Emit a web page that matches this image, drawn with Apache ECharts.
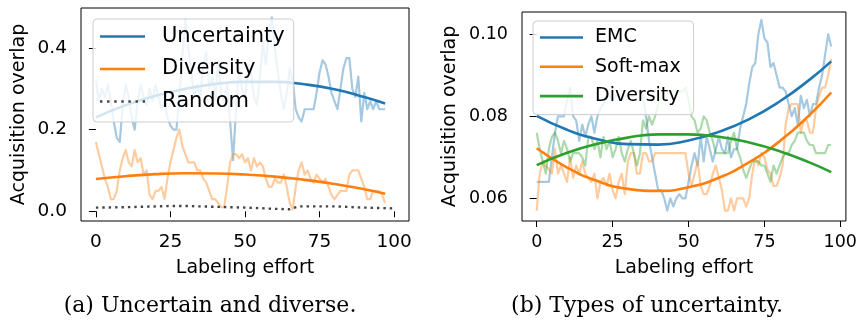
<!DOCTYPE html>
<html>
<head>
<meta charset="utf-8">
<script src="https://cdn.jsdelivr.net/npm/echarts@6/dist/echarts.min.js"></script>
<style>
  html, body { margin: 0; padding: 0; background: #fff; }
  #chart { width: 860px; height: 326px; }
</style>
</head>
<body>
<div id="chart"></div>
<script>
// (a) raw overlap per labeling step (x = 0..97)
const uncertaintyRaw = [
  0.32, 0.27, 0.30, 0.28, 0.31, 0.27, 0.22, 0.18, 0.17, 0.26,
  0.31, 0.28, 0.23, 0.20, 0.27, 0.31, 0.28, 0.26, 0.30, 0.27,
  0.31, 0.28, 0.25, 0.27, 0.23, 0.21, 0.20, 0.20, 0.28, 0.38,
  0.47, 0.40, 0.34, 0.28, 0.31, 0.28, 0.36, 0.39, 0.30, 0.33,
  0.27, 0.37, 0.29, 0.27, 0.31, 0.22, 0.125, 0.25, 0.35, 0.30,
  0.27, 0.36, 0.34, 0.28, 0.26, 0.33, 0.41, 0.36, 0.44, 0.475,
  0.40, 0.34, 0.29, 0.25, 0.29, 0.35, 0.32, 0.25, 0.23, 0.22,
  0.25, 0.25, 0.25, 0.25, 0.29, 0.34, 0.37, 0.36, 0.33, 0.29,
  0.27, 0.25, 0.30, 0.35, 0.375, 0.375, 0.30, 0.28, 0.33, 0.22,
  0.29, 0.25, 0.27, 0.25, 0.27, 0.25, 0.25, 0.25
];
const diversityRaw = [
  0.17, 0.14, 0.11, 0.08, 0.06, 0.03, 0.03, 0.05, 0.10, 0.13,
  0.15, 0.12, 0.11, 0.15, 0.12, 0.13, 0.09, 0.10, 0.04, 0.03,
  0.05, 0.05, 0.06, 0.03, 0.08, 0.12, 0.15, 0.18, 0.20, 0.16,
  0.14, 0.12, 0.12, 0.12, 0.10, 0.10, 0.08, 0.07, 0.05, 0.03,
  0.03, 0.02, 0.01, 0.01, 0.06, 0.12, 0.14, 0.14, 0.13, 0.14,
  0.12, 0.13, 0.10, 0.13, 0.11, 0.12, 0.11, 0.08, 0.06, 0.06,
  0.08, 0.07, 0.07, 0.09, 0.06, 0.02, 0.005, 0.06, 0.10, 0.12,
  0.09, 0.10, 0.08, 0.07, 0.09, 0.08, 0.07, 0.08, 0.06, 0.04,
  0.03, 0.04, 0.05, 0.05, 0.05, 0.09, 0.10, 0.10, 0.10, 0.08,
  0.06, 0.03, 0.03, 0.05, 0.05, 0.05, 0.04, 0.02
];
const randomX = [0, 10, 20, 25, 30, 40, 50, 60, 65, 68, 80, 90, 100];
const randomY = [0.009, 0.010, 0.012, 0.013, 0.013, 0.011, 0.009, 0.006, 0.005, 0.012, 0.012, 0.009, 0.007];

// fitted trends, read at these steps
const trendX = [0, 10, 20, 30, 40, 50, 60, 70, 80, 90, 97];
const uncertaintyTrend = [0.230, 0.260, 0.283, 0.300, 0.312, 0.317, 0.317, 0.311, 0.299, 0.280, 0.264];
const diversityTrend = [0.079, 0.086, 0.091, 0.093, 0.0925, 0.090, 0.085, 0.077, 0.067, 0.054, 0.043];

// (b) raw overlap per labeling step
const emcRaw = [
  0.064, 0.064, 0.064, 0.064, 0.064, 0.070, 0.076, 0.080, 0.080, 0.080,
  0.084, 0.087, 0.080, 0.079, 0.074, 0.078, 0.075, 0.078, 0.080, 0.076,
  0.080, 0.082, 0.083, 0.085, 0.085, 0.084, 0.085, 0.085, 0.084, 0.085,
  0.085, 0.085, 0.085, 0.086, 0.086, 0.085, 0.080, 0.074, 0.070, 0.066,
  0.062, 0.062, 0.060, 0.057, 0.060, 0.058, 0.060, 0.061, 0.060, 0.060,
  0.064, 0.068, 0.071, 0.068, 0.075, 0.069, 0.075, 0.072, 0.069, 0.072,
  0.075, 0.072, 0.071, 0.075, 0.070, 0.072, 0.072, 0.077, 0.080, 0.083,
  0.088, 0.092, 0.093, 0.100, 0.1035, 0.099, 0.098, 0.092, 0.093, 0.090,
  0.087, 0.087, 0.086, 0.083, 0.080, 0.082, 0.078, 0.085, 0.082, 0.084,
  0.080, 0.083, 0.083, 0.087, 0.090, 0.095, 0.100, 0.097
];
const softmaxRaw = [
  0.057, 0.066, 0.069, 0.068, 0.067, 0.066, 0.072, 0.066, 0.068, 0.066,
  0.064, 0.070, 0.065, 0.068, 0.066, 0.069, 0.066, 0.065, 0.064, 0.066,
  0.060, 0.064, 0.065, 0.063, 0.066, 0.062, 0.060, 0.064, 0.066, 0.061,
  0.069, 0.071, 0.071, 0.066, 0.066, 0.071, 0.071, 0.069, 0.069, 0.071,
  0.071, 0.071, 0.071, 0.071, 0.071, 0.071, 0.071, 0.071, 0.071, 0.071,
  0.066, 0.063, 0.066, 0.069, 0.063, 0.061, 0.061, 0.063, 0.066, 0.068,
  0.065, 0.062, 0.057, 0.057, 0.060, 0.057, 0.060, 0.060, 0.060, 0.058,
  0.060, 0.066, 0.070, 0.068, 0.071, 0.070, 0.067, 0.066, 0.063, 0.063,
  0.065, 0.068, 0.078, 0.082, 0.083, 0.083, 0.083, 0.076, 0.079, 0.079,
  0.076, 0.076, 0.082, 0.085, 0.087, 0.087, 0.090, 0.094
];
const diversityRawB = [
  0.076, 0.072, 0.069, 0.066, 0.072, 0.075, 0.076, 0.074, 0.071, 0.074,
  0.072, 0.069, 0.071, 0.071, 0.071, 0.070, 0.068, 0.075, 0.075, 0.072,
  0.074, 0.070, 0.075, 0.072, 0.074, 0.070, 0.072, 0.075, 0.071, 0.069,
  0.072, 0.074, 0.071, 0.068, 0.071, 0.079, 0.077, 0.080, 0.078, 0.080,
  0.083, 0.086, 0.086, 0.086, 0.086, 0.086, 0.086, 0.086, 0.086, 0.087,
  0.084, 0.080, 0.079, 0.076, 0.077, 0.080, 0.079, 0.076, 0.074, 0.071,
  0.071, 0.071, 0.071, 0.071, 0.074, 0.076, 0.072, 0.070, 0.067, 0.065,
  0.067, 0.069, 0.069, 0.069, 0.068, 0.068, 0.066, 0.064, 0.068, 0.066,
  0.068, 0.070, 0.071, 0.071, 0.073, 0.074, 0.076, 0.076, 0.076, 0.074,
  0.073, 0.073, 0.071, 0.071, 0.071, 0.071, 0.073, 0.073
];
const emcTrend = [0.0801, 0.0767, 0.0744, 0.0732, 0.0731, 0.0741, 0.0762, 0.0793, 0.0836, 0.0890, 0.0934];
const softmaxTrend = [0.0722, 0.0675, 0.0642, 0.0623, 0.0618, 0.0627, 0.0650, 0.0688, 0.0739, 0.0804, 0.0858];
const diversityTrendB = [0.0681, 0.0711, 0.0733, 0.0748, 0.0756, 0.0756, 0.0750, 0.0736, 0.0715, 0.0687, 0.0664];

const xTicks = [0, 25, 50, 75, 100];
const yTicksA = [0.0, 0.2, 0.4];
const yTicksB = [0.06, 0.08, 0.10];

const BLUE = '#1f77b4', ORANGE = '#ff7f0e', GREEN = '#2ca02c';

const steps = vals => vals.map((v, i) => [i, v]);
const pairs = (xs, ys) => xs.map((x, i) => [x, ys[i]]);

// legend keys: a flat bar for solid lines, a row of squares for the dotted one
const solidKey = w => 'path://M0,0H' + w + 'V2.6H0Z';
let dottedKey = 'path://';
for (let k = 0; k < 7; k++) {
    const x0 = k * 7.1;
    dottedKey += 'M' + x0 + ',0H' + (x0 + 2.4) + 'V2.4H' + x0 + 'Z';
}

function rawLine(name, idx, vals, color) {
    return {
        name: name, type: 'line', xAxisIndex: idx, yAxisIndex: idx,
        data: steps(vals), symbol: 'none', silent: true, z: 2,
        lineStyle: {color: color, width: 2.2, opacity: 0.4, join: 'round'}
    };
}
function trendLine(name, idx, vals, color) {
    return {
        name: name, type: 'line', xAxisIndex: idx, yAxisIndex: idx,
        data: pairs(trendX, vals), symbol: 'none', smooth: 0.5, silent: true, z: 3,
        itemStyle: {color: color},
        lineStyle: {color: color, width: 2.6}
    };
}

const font = 'DejaVu Sans';

function xAxis(idx, min, max, fs) {
    return {
        type: 'value', gridIndex: idx, min: min, max: max,
        name: 'Labeling effort', nameLocation: 'middle', nameGap: 38,
        nameTextStyle: {fontFamily: font, fontSize: 19, color: '#000'},
        axisLine: {show: false},
        axisTick: {show: true, length: 6, customValues: xTicks, lineStyle: {color: '#000'}},
        axisLabel: {customValues: xTicks, fontFamily: font, fontSize: fs, color: '#000', margin: 12},
        splitLine: {show: false}
    };
}
function yAxis(idx, min, max, ticks, digits, fs, gap) {
    return {
        type: 'value', gridIndex: idx, min: min, max: max,
        name: 'Acquisition overlap', nameLocation: 'middle', nameGap: gap,
        nameTextStyle: {fontFamily: font, fontSize: 19, color: '#000'},
        axisLine: {show: false},
        axisTick: {show: true, length: 7, customValues: ticks, lineStyle: {color: '#000'}},
        axisLabel: {
            customValues: ticks, fontFamily: font, fontSize: fs, color: '#000', margin: 14,
            formatter: v => v.toFixed(digits)
        },
        splitLine: {show: false}
    };
}

const option = {
    animation: false,
    backgroundColor: '#fff',
    grid: [
        {left: 81, top: 8, width: 328, height: 213, show: true, borderColor: '#000', borderWidth: 1, backgroundColor: 'transparent'},
        {left: 522, top: 12, width: 325, height: 209, show: true, borderColor: '#000', borderWidth: 1, backgroundColor: 'transparent'}
    ],
    xAxis: [xAxis(0, -5, 105, 18.5), xAxis(1, -4.85, 101.85, 17.5)],
    yAxis: [
        yAxis(0, -0.0238, 0.498, yTicksA, 1, 18.5, 52),
        yAxis(1, 0.05446, 0.10544, yTicksB, 2, 17.5, 62)
    ],
    legend: [
        {
            data: ['Uncertainty', 'Diversity', {name: 'Random', icon: dottedKey}],
            orient: 'vertical', left: 93, top: 19, icon: solidKey(45),
            itemWidth: 45, itemHeight: 20, itemGap: 11.5,
            padding: [7, 9, 10, 7], selectedMode: false,
            backgroundColor: 'rgba(255,255,255,0.8)', borderColor: '#cccccc', borderWidth: 1, borderRadius: 4,
            textStyle: {fontFamily: font, fontSize: 21, color: '#000', padding: [0, 0, 0, 12]}
        },
        {
            data: ['EMC', 'Soft-max', 'Diversity '],
            orient: 'vertical', left: 533, top: 21, icon: solidKey(43),
            itemWidth: 43, itemHeight: 18, itemGap: 10.3,
            padding: [7, 8, 9, 7], selectedMode: false,
            backgroundColor: 'rgba(255,255,255,0.8)', borderColor: '#cccccc', borderWidth: 1, borderRadius: 4,
            textStyle: {fontFamily: font, fontSize: 19, color: '#000', padding: [0, 0, 0, 7]}
        }
    ],
    series: [
        rawLine('uncertainty raw', 0, uncertaintyRaw, BLUE),
        rawLine('diversity raw', 0, diversityRaw, ORANGE),
        trendLine('Uncertainty', 0, uncertaintyTrend, BLUE),
        trendLine('Diversity', 0, diversityTrend, ORANGE),
        {
            name: 'Random', type: 'line', xAxisIndex: 0, yAxisIndex: 0,
            data: pairs(randomX, randomY), symbol: 'none', silent: true, z: 3,
            itemStyle: {color: '#444'},
            lineStyle: {color: '#444', width: 2.4, type: [2.4, 4]}
        },
        rawLine('emc raw', 1, emcRaw, BLUE),
        rawLine('softmax raw', 1, softmaxRaw, ORANGE),
        rawLine('diversity raw b', 1, diversityRawB, GREEN),
        trendLine('EMC', 1, emcTrend, BLUE),
        trendLine('Soft-max', 1, softmaxTrend, ORANGE),
        trendLine('Diversity ', 1, diversityTrendB, GREEN)
    ],
    graphic: [
        {type: 'text', x: 210, y: 306, style: {text: '(a) Uncertain and diverse.', font: '22px "DejaVu Serif"', fill: '#000', textAlign: 'center', textVerticalAlign: 'middle'}},
        {type: 'text', x: 647, y: 306, style: {text: '(b) Types of uncertainty.', font: '22px "DejaVu Serif"', fill: '#000', textAlign: 'center', textVerticalAlign: 'middle'}}
    ]
};

const chart = echarts.init(document.getElementById('chart'));
chart.setOption(option);
</script>
</body>
</html>
